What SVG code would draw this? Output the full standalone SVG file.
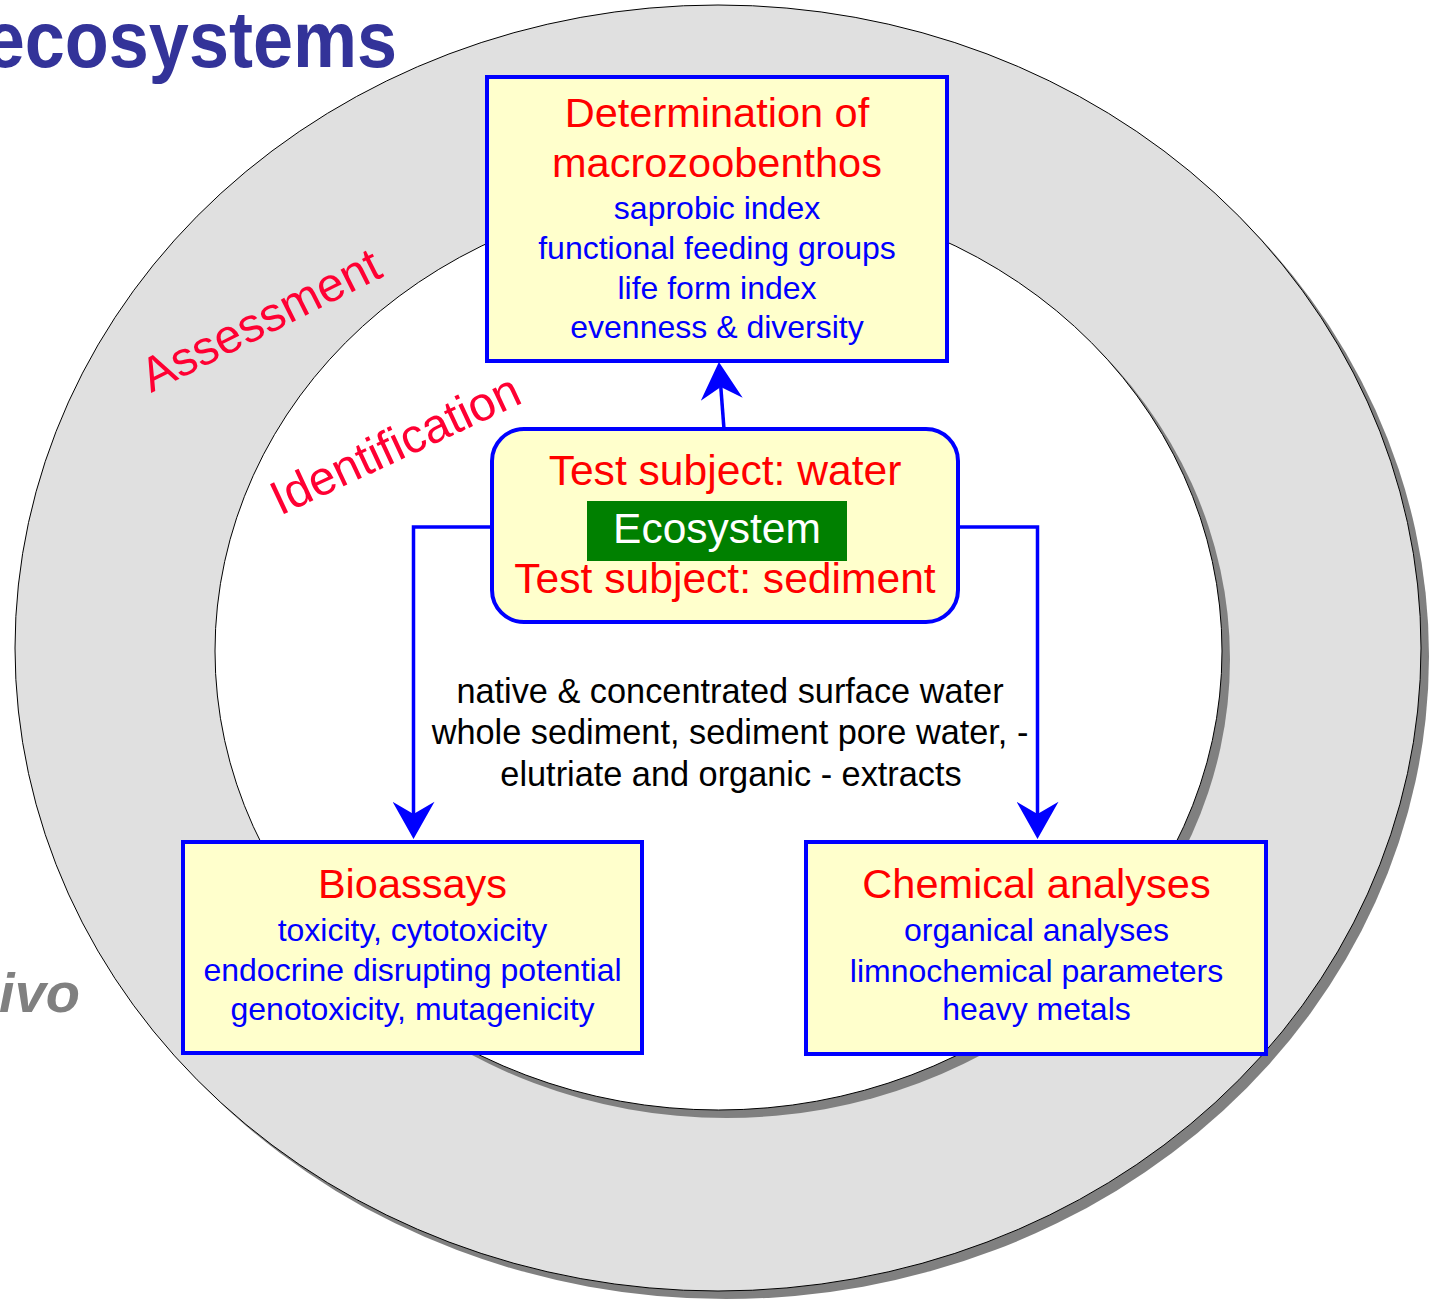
<svg xmlns="http://www.w3.org/2000/svg" width="1429" height="1299" viewBox="0 0 1429 1299">
<style>
text{font-family:"Liberation Sans",Arial,Helvetica,sans-serif}
.box{fill:#FFFFCC;stroke:#0000FF;stroke-width:4}
.ttl{fill:#FF0000;font-size:41.5px;text-anchor:middle}
.ttl2{fill:#FF0000;font-size:42.6px;text-anchor:middle}
.itm{fill:#0000FF;font-size:32px;text-anchor:middle}
.conn{fill:none;stroke:#0000FF;stroke-width:3.5}
.shadow{fill:#808080}
.ring{stroke:#000000;stroke-width:1}
.lbl{fill:#FF0033;font-size:48px}
.mid{fill:#000000;font-size:34.3px;text-anchor:middle}
</style>
<defs>
<marker id="arr" markerUnits="userSpaceOnUse" markerWidth="40" markerHeight="42" viewBox="0 0 37 41" refX="12" refY="20.5" orient="auto">
<path d="M0,0 L36.5,20.5 L0,41 L12,20.5 Z" fill="#0000FF"/>
</marker>
</defs>
<rect width="1429" height="1299" fill="#FFFFFF"/>
<g id="background">
<ellipse class="shadow" cx="726" cy="656" rx="703" ry="643"/>
<ellipse class="ring" cx="718" cy="648" rx="703" ry="643" fill="#E0E0E0"/>
<ellipse class="shadow" cx="726.5" cy="659" rx="503.5" ry="459"/>
<ellipse class="ring" cx="718.5" cy="651" rx="503.5" ry="459" fill="#FFFFFF"/>
</g>
<g id="title">
<text transform="translate(397,67) scale(0.9,1)" x="0" y="0" text-anchor="end" font-size="80" font-weight="bold" fill="#333399">ecosystems</text>
</g>
<g id="invivo">
<text x="80" y="1012" text-anchor="end" font-size="56" font-weight="bold" font-style="italic" fill="#808080">ivo</text>
</g>
<g id="labels">
<text class="lbl" transform="translate(151,393) rotate(-26.6)">Assessment</text>
<text class="lbl" transform="translate(280,516) rotate(-25)">Identification</text>
</g>
<g id="connectors">
<path class="conn" d="M724,429 L720.8,387" marker-end="url(#arr)"/>
<path class="conn" d="M492,527 H413.5 V814" marker-end="url(#arr)"/>
<path class="conn" d="M958,527 H1037.5 V814" marker-end="url(#arr)"/>
</g>
<g id="node-macrozoobenthos">
<rect class="box" x="487" y="77" width="460" height="284"/>
<text class="ttl" x="717" y="127">Determination of</text>
<text class="ttl" x="717" y="177">macrozoobenthos</text>
<text class="itm" x="717" y="219">saprobic index</text>
<text class="itm" x="717" y="258.5">functional feeding groups</text>
<text class="itm" x="717" y="298.5">life form index</text>
<text class="itm" x="717" y="338">evenness &amp; diversity</text>
</g>
<g id="node-ecosystem">
<rect class="box" x="492" y="429" width="466" height="193" rx="32" ry="32"/>
<text class="ttl2" x="725" y="485">Test subject: water</text>
<rect x="587" y="501" width="260" height="60" fill="#008000"/>
<text x="717" y="543" text-anchor="middle" font-size="42.5" fill="#FFFFFF">Ecosystem</text>
<text class="ttl2" x="725" y="593">Test subject: sediment</text>
</g>
<g id="samples-text">
<text class="mid" x="730" y="703">native &amp; concentrated surface water</text>
<text class="mid" x="730" y="744">whole sediment, sediment pore water, -</text>
<text class="mid" x="731" y="786">elutriate and organic - extracts</text>
</g>
<g id="node-bioassays">
<rect class="box" x="183" y="842" width="459" height="211"/>
<text class="ttl" x="412.5" y="898">Bioassays</text>
<text class="itm" x="412.5" y="941">toxicity, cytotoxicity</text>
<text class="itm" x="412.5" y="981">endocrine disrupting potential</text>
<text class="itm" x="412.5" y="1020">genotoxicity, mutagenicity</text>
</g>
<g id="node-chemical">
<rect class="box" x="806" y="842" width="460" height="212"/>
<text class="ttl" x="1036.5" y="898">Chemical analyses</text>
<text class="itm" x="1036.5" y="941">organical analyses</text>
<text class="itm" x="1036.5" y="982">limnochemical parameters</text>
<text class="itm" x="1036.5" y="1020">heavy metals</text>
</g>
</svg>
